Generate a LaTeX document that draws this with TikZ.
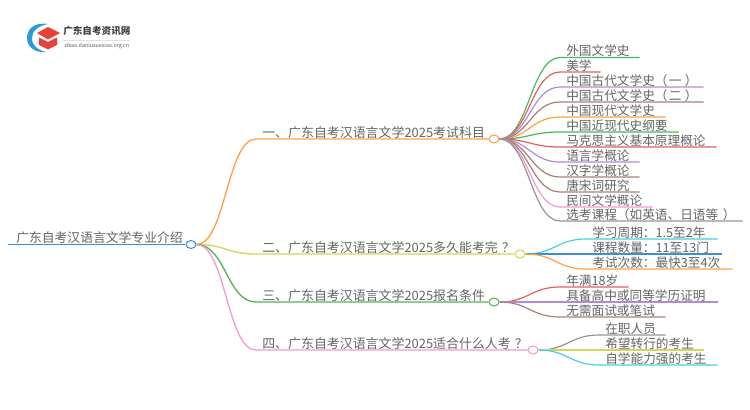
\documentclass[tikz,border=0pt]{standalone}
\usepackage{fontspec}
\usepackage{xcolor}
\usetikzlibrary{shapes.geometric}
\setmainfont{Noto Sans CJK SC}
\definecolor{txtgray}{HTML}{646464}
\definecolor{mapblue}{HTML}{3E8FD2}
\definecolor{maporange}{HTML}{FF9F45}
\definecolor{mapyellow}{HTML}{D6D45A}
\definecolor{mapgreen}{HTML}{52B455}
\definecolor{mappink}{HTML}{F09AD8}
\definecolor{mapred}{HTML}{E25F5F}
\definecolor{mappurple}{HTML}{B08AD6}
\definecolor{mapbrown}{HTML}{A97F78}
\definecolor{mapgray}{HTML}{959595}
\definecolor{mapcyan}{HTML}{45CFE2}
\definecolor{logored}{HTML}{E5403A}
\definecolor{logoblue}{HTML}{2A9BD8}

\begin{document}
\begin{tikzpicture}[x=0.75pt,y=-0.75pt]
        \useasboundingbox (0,0) rectangle (750,410);
        \def\sproutpath{.. controls +(29,0) and +(-29,0) ..}
        \def\trunkpath{.. controls +(29,0) and +(-29,0) ..}
        \tikzstyle{rootlabel}=[anchor=south west,inner xsep=6pt,inner ysep=0pt,text=txtgray,
        text height=8pt,text depth=1pt,font=\fontsize{9.6pt}{10pt}\selectfont]
        \tikzstyle{branchlabel}=[anchor=south west,inner xsep=4.5pt,inner ysep=0pt,text=txtgray,
        text height=8pt,text depth=1.1pt,font=\fontsize{9.7pt}{10pt}\selectfont]
        \tikzstyle{leaf}=[branchlabel,text width=#1,align=left,font=\fontsize{9.5pt}{10pt}\selectfont]
        \tikzstyle{hub}=[ellipse,thick,fill=white,inner sep=0pt,minimum width=7.5pt,minimum height=6pt]
        \tikzstyle{twig}=[line width=0.9pt]
        \tikzstyle{limb}=[line width=1pt]

        % logo
        \fill[logoblue] (48,24) .. controls (33,22) and (27,30) .. (27,38)
            .. controls (27,47) and (35,53) .. (46,52)
            .. controls (38,50) and (32,46) .. (32,38)
            .. controls (32,31) and (38,26) .. (48,24) -- cycle;
        \fill[logored] (37,33) -- (48,27) -- (60,33) -- (48,39.5) -- cycle;
        \fill[logored] (39,37.5) -- (48,42) -- (57,37.5) -- (57,45) -- (48,49.5) -- (39,45) -- cycle;
        \node at (63,31) [anchor=west,inner sep=0pt,text=black!75,font=\fontsize{7.2pt}{8pt}\selectfont\bfseries] (logotitle) {广东自考资讯网};
        \node at (64,46) [anchor=west,inner sep=0pt,text=black!65,font=\fontsize{4pt}{5pt}\selectfont] (logourl) {zikao.daniuxuexiao.org.cn};
        \draw[black!12,line width=0.4pt] (63,40) -- (130,40);

        % root and main branches
        \node at (8,244.5) [rootlabel] (guangdong) {广东自考汉语言文学专业介绍};
        \node at (191,244.5) [hub,draw=mapblue] (guangdonghub) {};
        \node at (256,139) [branchlabel] (subjects) {一、广东自考汉语言文学2025考试科目};
        \node at (494,139) [hub,draw=maporange] (subjectshub) {};
        \node at (256,254) [branchlabel] (duration) {二、广东自考汉语言文学2025多久能考完\kern3pt？};
        \node at (520,254) [hub,draw=mapyellow] (durationhub) {};
        \node at (256,302) [branchlabel] (entry) {三、广东自考汉语言文学2025报名条件};
        \node at (494,302) [hub,draw=mapgreen] (entryhub) {};
        \node at (256,350) [branchlabel] (people) {四、广东自考汉语言文学2025适合什么人考\kern3pt？};
        \node at (533,350) [hub,draw=mappink] (peoplehub) {};

        \draw[line width=1.1pt,mapblue] (guangdong.south west) -- (guangdonghub.west);
        \draw[limb,maporange] (guangdonghub.east) \trunkpath (subjects.south west) -- (subjectshub.west);
        \draw[limb,mapyellow] (guangdonghub.east) \trunkpath (duration.south west) -- (durationhub.west);
        \draw[limb,mapgreen] (guangdonghub.east) \trunkpath (entry.south west) -- (entryhub.west);
        \draw[limb,mappink] (guangdonghub.east) \trunkpath (people.south west) -- (peoplehub.west);

        % subjects
        \node at (560,57.5) [leaf=50.25pt] (waiguo) {外国文学史};
        \node at (560,72) [leaf=21pt] (meixue) {美学};
        \node at (560,87) [leaf=98.25pt] (gudaione) {中国古代文学史（\kern1pt 一\kern2.5pt）};
        \node at (560,102) [leaf=98.25pt] (gudaitwo) {中国古代文学史（\kern1pt 二\kern2.5pt）};
        \node at (560,117) [leaf=69.75pt] (xiandai) {中国现代文学史};
        \node at (560,132) [leaf=79.5pt] (jinxiandai) {中国近现代史纲要};
        \node at (560,147) [leaf=108pt] (makesi) {马克思主义基本原理概论};
        \node at (560,162) [leaf=50.25pt] (yuyan) {语言学概论};
        \node at (560,177) [leaf=50.25pt] (hanzi) {汉字学概论};
        \node at (560,192) [leaf=50.25pt] (tangsong) {唐宋词研究};
        \node at (560,207) [leaf=60pt] (minjian) {民间文学概论};
        \node at (560,221) [leaf=127.5pt] (xuankao) {选考课程（如英语、日语等\kern3.5pt）};
        \draw[twig,mapgreen] (subjectshub.east) \sproutpath (waiguo.south west) -- (waiguo.south east);
        \draw[twig,mapred] (subjectshub.east) \sproutpath (meixue.south west) -- (meixue.south east);
        \draw[twig,mappurple] (subjectshub.east) \sproutpath (gudaione.south west) -- (gudaione.south east);
        \draw[twig,mapbrown] (subjectshub.east) \sproutpath (gudaitwo.south west) -- (gudaitwo.south east);
        \draw[twig,maporange] (subjectshub.east) \sproutpath (xiandai.south west) -- (xiandai.south east);
        \draw[twig,mapgreen] (subjectshub.east) \sproutpath (jinxiandai.south west) -- (jinxiandai.south east);
        \draw[twig,mapred] (subjectshub.east) \sproutpath (makesi.south west) -- (makesi.south east);
        \draw[twig,mappurple] (subjectshub.east) \sproutpath (yuyan.south west) -- (yuyan.south east);
        \draw[twig,mapbrown] (subjectshub.east) \sproutpath (hanzi.south west) -- (hanzi.south east);
        \draw[twig,mapbrown] (subjectshub.east) \sproutpath (tangsong.south west) -- (tangsong.south east);
        \draw[twig,mappink] (subjectshub.east) \sproutpath (minjian.south west) -- (minjian.south east);
        \draw[twig,mapgray] (subjectshub.east) \sproutpath (xuankao.south west) -- (xuankao.south east);

        % duration
        \node at (586,239) [leaf=89.25pt] (zhouqi) {学习周期：1.5至2年};
        \node at (586,254) [leaf=92.25pt] (shuliang) {课程数量：11至13门};
        \node at (586,269) [leaf=100.5pt] (cishu) {考试次数：最快3至4次};
        \draw[twig,mapcyan] (durationhub.east) \sproutpath (zhouqi.south west) -- (zhouqi.south east);
        \draw[twig,mapblue] (durationhub.east) \sproutpath (shuliang.south west) -- (shuliang.south east);
        \draw[twig,maporange] (durationhub.east) \sproutpath (cishu.south west) -- (cishu.south east);

        % entry
        \node at (560,287) [leaf=42pt] (nianman) {年满18岁};
        \node at (560,302) [leaf=108.75pt] (xueli) {具备高中或同等学历证明};
        \node at (560,317) [leaf=69.75pt] (mianshi) {无需面试或笔试};
        \draw[twig,mapred] (entryhub.east) \sproutpath (nianman.south west) -- (nianman.south east);
        \draw[twig,mappurple] (entryhub.east) \sproutpath (xueli.south west) -- (xueli.south east);
        \draw[twig,mapbrown] (entryhub.east) \sproutpath (mianshi.south west) -- (mianshi.south east);

        % people
        \node at (599,335) [leaf=40.5pt] (zaizhi) {在职人员};
        \node at (599,350) [leaf=69pt] (zhuanhang) {希望转行的考生};
        \node at (599,365) [leaf=79.5pt] (zixue) {自学能力强的考生};
        \draw[twig,mapgray] (peoplehub.east) \sproutpath (zaizhi.south west) -- (zaizhi.south east);
        \draw[twig,mapyellow] (peoplehub.east) \sproutpath (zhuanhang.south west) -- (zhuanhang.south east);
        \draw[twig,mapcyan] (peoplehub.east) \sproutpath (zixue.south west) -- (zixue.south east);
      \end{tikzpicture}
\end{document}
